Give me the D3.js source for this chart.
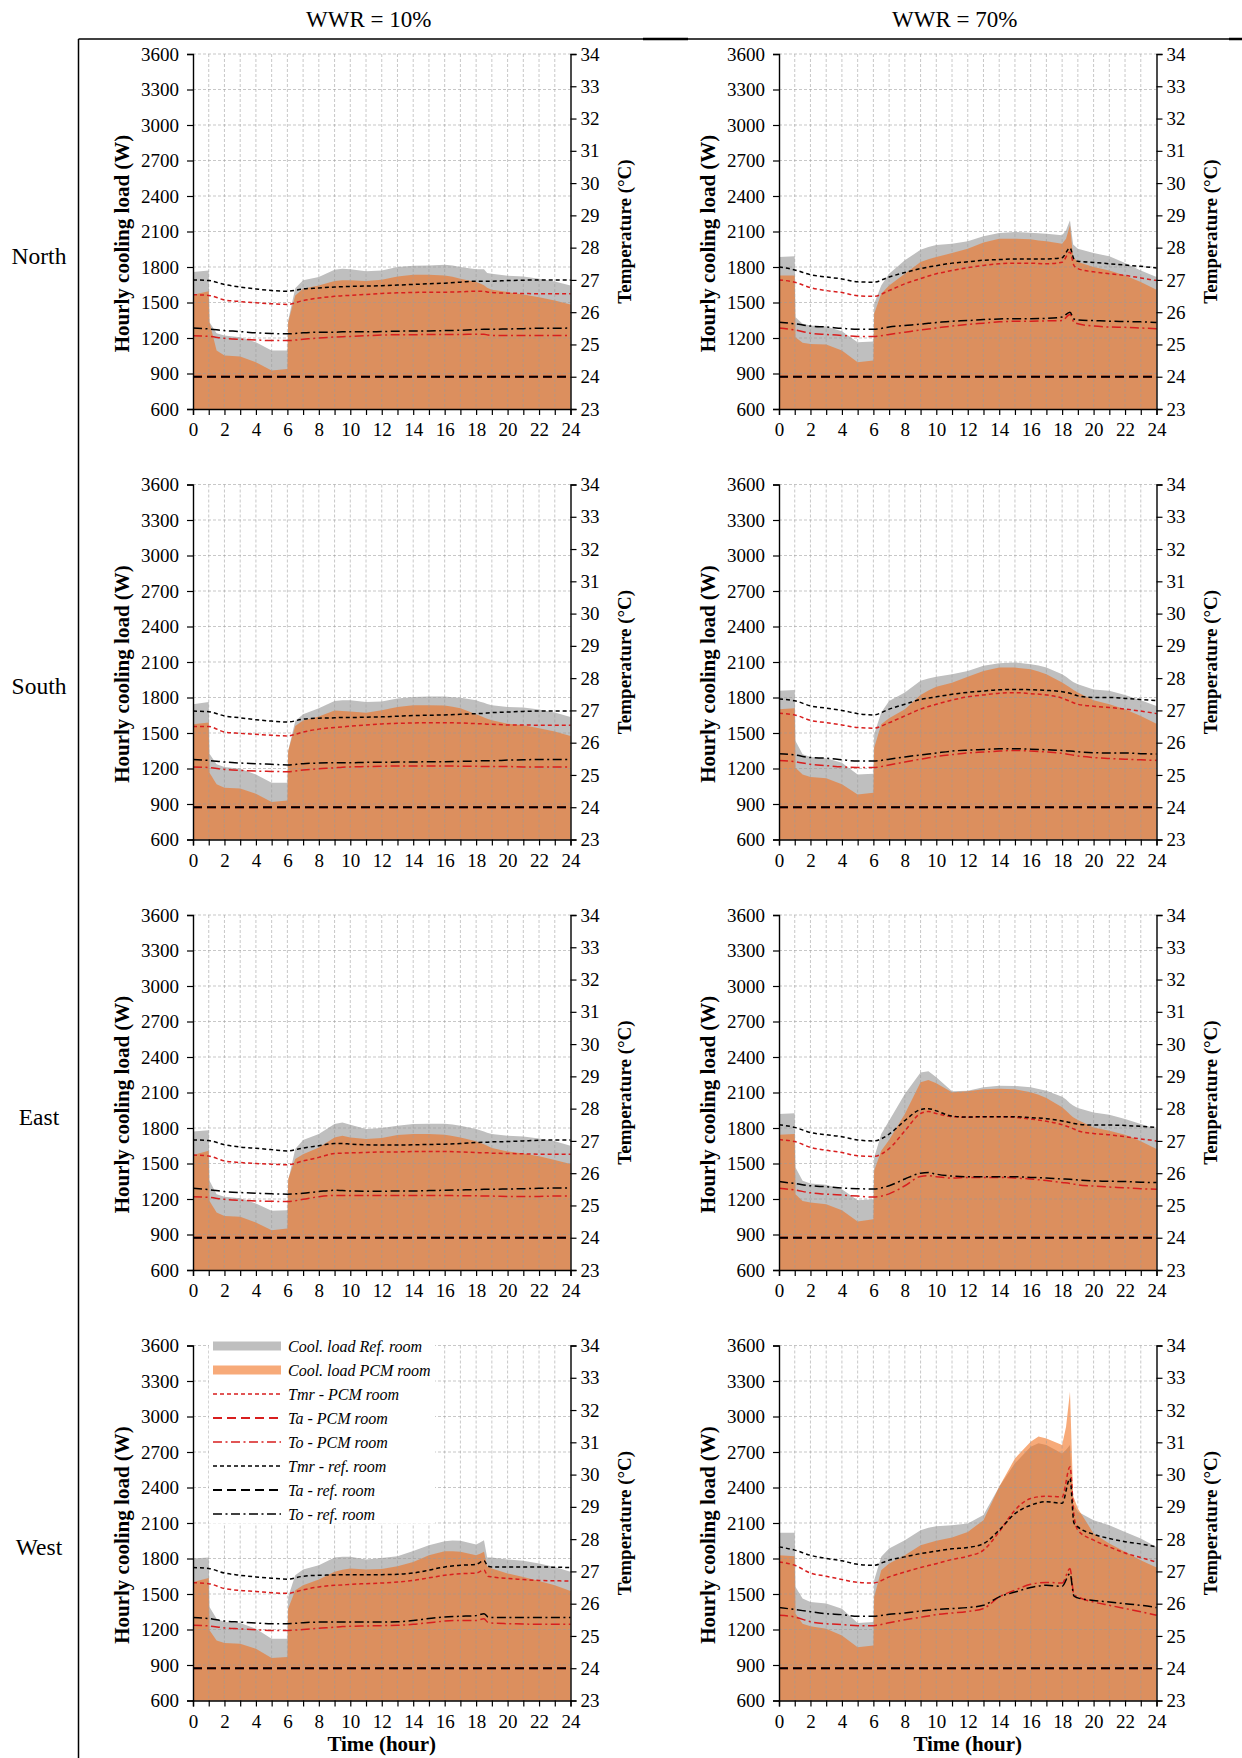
<!DOCTYPE html>
<html><head><meta charset="utf-8">
<script src="https://cdn.jsdelivr.net/npm/d3@7/dist/d3.min.js"></script>
<style>
body{margin:0;background:#fff;}
text{font-family:"Liberation Serif","Times New Roman",serif;fill:#000;}
</style>
</head><body>
<svg id="chart" width="1242" height="1758"></svg>
<script>
// ---------- categories / ticks ----------
const WWR_LABELS = ["WWR = 10%", "WWR = 70%"];
const ORIENTATIONS = ["North", "South", "East", "West"];
const LOAD_TICKS = [600, 900, 1200, 1500, 1800, 2100, 2400, 2700, 3000, 3300, 3600];
const TEMP_TICKS = [23, 24, 25, 26, 27, 28, 29, 30, 31, 32, 33, 34];
const HOUR_TICKS = [0,1,2,3,4,5,6,7,8,9,10,11,12,13,14,15,16,17,18,19,20,21,22,23,24];
const HOUR_LABELS = [0,2,4,6,8,10,12,14,16,18,20,22,24];
const LEGEND_LABELS = ["Cool. load Ref. room","Cool. load PCM room","Tmr - PCM room","Ta - PCM room","To - PCM room","Tmr - ref. room","Ta - ref. room","To - ref. room"];

// ---------- x values ----------
const HOURS_LOAD = [0,1,1.05,1.5,2,3,4,5,6,6.05,6.5,7,8,9,9.5,10,11,12,13,14,15,16,16.5,17,18,18.25,18.5,18.7,19,20,21,22,23,24];
const HOURS_TEMP = [0,1,2,3,4,5,6,7,8,9,9.5,10,11,12,13,14,15,16,17,18,18.5,18.75,19,20,21,22,23,24];
const TA_HOURS = [0, 24];
const TA_REF = [24, 24];
const TA_PCM = [24, 24];

// ---------- North ----------
const N10_LOAD_REF = [1757,1771,1334,1240,1221,1207,1164,1094,1094,1348,1620,1687,1715,1777,1785,1782,1765,1771,1799,1810,1813,1819,1812,1799,1782,1782,1782,1749,1743,1726,1720,1700,1678,1644];
const N10_LOAD_PCM = [1565,1596,1334,1094,1052,1043,995,925,939,1334,1560,1616,1644,1681,1688,1687,1681,1692,1720,1735,1735,1729,1718,1701,1673,1660,1645,1625,1608,1588,1568,1545,1517,1483];
const N10_TMR_REF = [27.0,26.98,26.86,26.78,26.72,26.67,26.65,26.72,26.75,26.78,26.79,26.8,26.81,26.82,26.84,26.86,26.88,26.9,26.93,26.96,26.96,26.96,26.96,26.98,26.99,27.0,27.0,27.0];
const N10_TMR_PCM = [26.54,26.52,26.38,26.33,26.29,26.26,26.24,26.36,26.44,26.49,26.51,26.52,26.55,26.58,26.6,26.61,26.62,26.62,26.63,26.65,26.65,26.62,26.61,26.59,26.58,26.57,26.57,26.57];
const N10_TO_REF = [25.51,25.48,25.43,25.4,25.36,25.34,25.33,25.36,25.38,25.38,25.39,25.39,25.39,25.4,25.41,25.42,25.42,25.43,25.44,25.46,25.47,25.47,25.47,25.48,25.49,25.5,25.5,25.51];
const N10_TO_PCM = [25.27,25.25,25.19,25.16,25.14,25.12,25.12,25.16,25.2,25.23,25.24,25.25,25.27,25.29,25.3,25.3,25.31,25.31,25.31,25.32,25.32,25.29,25.28,25.28,25.28,25.28,25.28,25.28];

const N70_LOAD_REF = [1884,1890,1376,1320,1306,1297,1258,1164,1170,1489,1644,1743,1856,1946,1970,1986,1997,2017,2059,2087,2096,2090,2086,2082,2068,2110,2195,1991,1955,1918,1890,1833,1771,1715];
const N70_LOAD_PCM = [1729,1729,1207,1160,1150,1145,1094,995,1009,1404,1573,1644,1743,1842,1865,1884,1918,1955,2008,2039,2039,2034,2025,2017,1997,2039,2152,1884,1842,1799,1771,1729,1673,1607];
const N70_TMR_REF = [27.4,27.31,27.16,27.09,27.03,26.94,26.93,27.09,27.23,27.35,27.4,27.44,27.52,27.56,27.61,27.63,27.65,27.65,27.65,27.69,27.99,27.65,27.58,27.54,27.5,27.46,27.42,27.37];
const N70_TMR_PCM = [27.0,26.93,26.76,26.67,26.61,26.51,26.49,26.67,26.88,27.04,27.12,27.19,27.29,27.38,27.45,27.5,27.52,27.52,27.5,27.55,27.86,27.45,27.35,27.25,27.19,27.14,27.06,26.98];
const N70_TO_REF = [25.69,25.64,25.57,25.54,25.5,25.47,25.47,25.54,25.59,25.63,25.66,25.68,25.72,25.74,25.77,25.79,25.8,25.8,25.81,25.85,26.0,25.79,25.76,25.74,25.72,25.71,25.7,25.68];
const N70_TO_PCM = [25.51,25.45,25.35,25.31,25.28,25.25,25.25,25.31,25.38,25.45,25.48,25.51,25.57,25.62,25.66,25.7,25.72,25.72,25.73,25.74,25.93,25.69,25.64,25.57,25.54,25.53,25.51,25.49];

// ---------- South ----------
const S10_LOAD_REF = [1743,1763,1325,1235,1212,1198,1150,1080,1080,1348,1602,1658,1709,1771,1776,1777,1763,1766,1791,1805,1808,1808,1803,1797,1777,1765,1755,1745,1735,1720,1715,1698,1673,1636];
const S10_LOAD_PCM = [1574,1588,1164,1066,1037,1032,987,916,930,1348,1560,1605,1640,1690,1685,1681,1672,1692,1720,1735,1735,1732,1722,1709,1658,1645,1632,1620,1607,1579,1565,1540,1512,1475];
const S10_TMR_REF = [26.98,26.96,26.83,26.77,26.71,26.67,26.64,26.73,26.76,26.77,26.78,26.78,26.79,26.8,26.82,26.84,26.85,26.86,26.88,26.9,26.91,26.92,26.93,26.95,26.97,26.98,26.98,26.98];
const S10_TMR_PCM = [26.5,26.5,26.33,26.29,26.26,26.23,26.21,26.33,26.42,26.47,26.49,26.51,26.55,26.58,26.6,26.61,26.62,26.62,26.61,26.59,26.58,26.57,26.57,26.55,26.55,26.54,26.54,26.54];
const S10_TO_REF = [25.48,25.45,25.4,25.37,25.35,25.33,25.31,25.35,25.37,25.38,25.38,25.38,25.39,25.39,25.4,25.4,25.41,25.41,25.42,25.43,25.44,25.44,25.44,25.46,25.47,25.48,25.48,25.48];
const S10_TO_PCM = [25.25,25.23,25.17,25.14,25.12,25.11,25.1,25.15,25.19,25.22,25.24,25.25,25.26,25.27,25.28,25.28,25.28,25.28,25.27,25.27,25.26,25.26,25.26,25.26,25.25,25.25,25.25,25.25];

const S70_LOAD_REF = [1856,1864,1433,1320,1297,1286,1249,1150,1156,1489,1673,1771,1842,1941,1960,1975,1997,2025,2068,2090,2096,2082,2070,2053,1997,1975,1950,1930,1912,1867,1856,1822,1777,1729];
const S70_LOAD_PCM = [1701,1709,1207,1150,1128,1117,1066,981,995,1376,1573,1624,1701,1822,1860,1890,1924,1975,2025,2053,2053,2039,2020,1997,1926,1905,1885,1865,1842,1777,1743,1701,1644,1579];
const S70_TMR_REF = [27.35,27.3,27.14,27.07,27.0,26.9,26.86,27.04,27.19,27.34,27.38,27.42,27.5,27.56,27.6,27.64,27.65,27.64,27.62,27.58,27.53,27.49,27.45,27.4,27.4,27.37,27.34,27.3];
const S70_TMR_PCM = [26.91,26.86,26.69,26.62,26.55,26.47,26.45,26.62,26.83,27.04,27.12,27.19,27.32,27.42,27.48,27.53,27.55,27.52,27.48,27.38,27.28,27.23,27.19,27.13,27.09,27.04,26.98,26.9];
const S70_TO_REF = [25.66,25.62,25.54,25.52,25.47,25.43,25.43,25.49,25.56,25.62,25.65,25.68,25.74,25.77,25.79,25.81,25.81,25.8,25.78,25.76,25.74,25.73,25.72,25.69,25.68,25.68,25.66,25.65];
const S70_TO_PCM = [25.45,25.41,25.33,25.29,25.25,25.23,25.23,25.31,25.4,25.49,25.53,25.57,25.63,25.68,25.71,25.74,25.76,25.74,25.71,25.67,25.63,25.61,25.59,25.54,25.51,25.49,25.47,25.45];

// ---------- East ----------
const E10_LOAD_REF = [1771,1782,1354,1241,1218,1207,1162,1100,1105,1354,1622,1698,1749,1833,1847,1828,1791,1799,1819,1833,1836,1836,1830,1819,1791,1780,1770,1760,1749,1735,1729,1712,1687,1650];
const E10_LOAD_PCM = [1571,1608,1184,1085,1057,1049,1001,936,950,1368,1537,1579,1636,1720,1735,1720,1706,1715,1740,1749,1749,1743,1732,1720,1687,1675,1662,1650,1630,1602,1585,1562,1529,1495];
const E10_TMR_REF = [27.03,27.01,26.88,26.81,26.77,26.73,26.69,26.78,26.85,26.92,26.92,26.9,26.88,26.87,26.87,26.88,26.89,26.9,26.92,26.95,26.96,26.96,26.97,26.98,27.0,27.02,27.03,27.03];
const E10_TMR_PCM = [26.56,26.53,26.38,26.33,26.3,26.28,26.26,26.38,26.49,26.61,26.62,26.63,26.64,26.66,26.66,26.67,26.67,26.67,26.66,26.64,26.63,26.63,26.62,26.61,26.6,26.59,26.59,26.59];
const E10_TO_REF = [25.53,25.49,25.43,25.4,25.38,25.36,25.35,25.38,25.43,25.47,25.46,25.45,25.44,25.44,25.45,25.45,25.46,25.47,25.48,25.49,25.5,25.5,25.5,25.51,25.52,25.53,25.54,25.54];
const E10_TO_PCM = [25.27,25.25,25.19,25.16,25.14,25.13,25.12,25.19,25.27,25.31,25.31,25.31,25.31,25.31,25.31,25.31,25.31,25.31,25.3,25.3,25.29,25.29,25.29,25.28,25.28,25.28,25.29,25.29];

const E70_LOAD_REF = [1918,1924,1467,1354,1331,1320,1283,1190,1198,1551,1749,1862,2087,2270,2279,2228,2110,2115,2144,2158,2155,2144,2130,2115,2065,2040,2010,1990,1969,1932,1912,1876,1833,1791];
const E70_LOAD_PCM = [1743,1749,1241,1184,1170,1156,1105,1009,1029,1439,1608,1698,1918,2186,2206,2178,2102,2110,2127,2132,2127,2102,2080,2054,1975,1945,1915,1890,1867,1805,1777,1743,1687,1622];
const E70_TMR_REF = [27.5,27.42,27.26,27.19,27.13,27.03,27.0,27.21,27.63,27.97,28.0,27.93,27.77,27.74,27.75,27.75,27.75,27.72,27.69,27.62,27.57,27.54,27.52,27.49,27.49,27.48,27.45,27.42];
const E70_TMR_PCM = [27.04,26.98,26.8,26.71,26.64,26.54,26.52,26.76,27.31,27.85,27.91,27.85,27.75,27.73,27.75,27.75,27.73,27.68,27.61,27.5,27.42,27.37,27.31,27.23,27.19,27.13,27.06,27.0];
const E70_TO_REF = [25.74,25.68,25.61,25.58,25.54,25.52,25.51,25.61,25.82,26.0,26.02,25.97,25.91,25.89,25.89,25.89,25.89,25.87,25.85,25.82,25.81,25.8,25.79,25.76,25.75,25.74,25.72,25.71];
const E70_TO_PCM = [25.53,25.48,25.39,25.35,25.32,25.29,25.26,25.36,25.61,25.9,25.92,25.89,25.85,25.87,25.87,25.87,25.85,25.82,25.77,25.71,25.68,25.66,25.64,25.6,25.57,25.55,25.52,25.5];

// ---------- West ----------
const W10_LOAD_REF = [1799,1808,1390,1291,1263,1255,1207,1122,1122,1475,1658,1706,1743,1808,1815,1814,1791,1805,1819,1864,1912,1946,1952,1949,1918,1935,1955,1808,1808,1791,1780,1757,1729,1687];
const W10_LOAD_PCM = [1602,1636,1193,1108,1086,1080,1038,959,967,1376,1531,1574,1622,1687,1705,1715,1706,1712,1735,1771,1828,1862,1862,1856,1828,1840,1856,1735,1715,1673,1644,1610,1574,1526];
const W10_TMR_REF = [27.12,27.09,26.95,26.88,26.83,26.79,26.76,26.85,26.88,26.89,26.9,26.9,26.9,26.9,26.91,26.95,27.04,27.14,27.19,27.22,27.33,27.16,27.14,27.14,27.14,27.14,27.13,27.12];
const W10_TMR_PCM = [26.65,26.62,26.47,26.41,26.38,26.34,26.32,26.43,26.52,26.57,26.58,26.6,26.62,26.64,26.67,26.72,26.8,26.88,26.93,26.95,27.04,26.85,26.83,26.78,26.75,26.72,26.71,26.7];
const W10_TO_REF = [25.57,25.54,25.46,25.43,25.4,25.38,25.38,25.41,25.43,25.43,25.43,25.43,25.43,25.43,25.44,25.48,25.54,25.59,25.61,25.63,25.69,25.59,25.57,25.57,25.57,25.57,25.57,25.57];
const W10_TO_PCM = [25.33,25.31,25.25,25.22,25.19,25.17,25.17,25.2,25.24,25.27,25.29,25.3,25.31,25.32,25.33,25.36,25.41,25.46,25.48,25.48,25.53,25.42,25.4,25.38,25.37,25.36,25.36,25.36];

const W70_LOAD_REF = [2017,2017,1560,1461,1433,1419,1376,1255,1263,1616,1814,1884,1955,2039,2060,2073,2082,2096,2167,2406,2604,2745,2773,2759,2688,2720,2760,2265,2195,2124,2082,2025,1969,1898];
const W70_LOAD_PCM = [1828,1819,1334,1249,1227,1207,1150,1051,1065,1475,1701,1757,1828,1912,1930,1949,1977,2025,2124,2406,2646,2787,2830,2815,2759,2914,3210,2330,2223,2011,1926,1856,1785,1723];
const W70_TMR_REF = [27.76,27.66,27.5,27.4,27.33,27.22,27.19,27.35,27.45,27.55,27.59,27.63,27.7,27.74,27.86,28.28,28.79,29.05,29.16,29.11,29.88,28.5,28.38,28.15,28.02,27.92,27.85,27.76];
const W70_TMR_PCM = [27.29,27.19,26.95,26.85,26.75,26.66,26.64,26.83,26.98,27.12,27.18,27.24,27.37,27.47,27.66,28.23,28.9,29.26,29.33,29.31,30.24,28.75,28.28,27.97,27.76,27.57,27.43,27.29];
const W70_TO_REF = [25.88,25.82,25.75,25.69,25.66,25.61,25.61,25.67,25.71,25.77,25.8,25.82,25.85,25.88,25.95,26.21,26.36,26.5,26.57,26.54,26.93,26.24,26.18,26.1,26.05,26.0,25.95,25.88];
const W70_TO_PCM = [25.64,25.59,25.44,25.38,25.35,25.32,25.32,25.41,25.5,25.58,25.62,25.66,25.71,25.76,25.85,26.21,26.42,26.6,26.66,26.64,27.09,26.28,26.21,26.05,25.95,25.85,25.75,25.64];

// ---------- panel table built from the arrays ----------
const PANELS = [
  {row:0,col:0,ref:N10_LOAD_REF,pcm:N10_LOAD_PCM,tmrRef:N10_TMR_REF,tmrPcm:N10_TMR_PCM,toRef:N10_TO_REF,toPcm:N10_TO_PCM},
  {row:0,col:1,ref:N70_LOAD_REF,pcm:N70_LOAD_PCM,tmrRef:N70_TMR_REF,tmrPcm:N70_TMR_PCM,toRef:N70_TO_REF,toPcm:N70_TO_PCM},
  {row:1,col:0,ref:S10_LOAD_REF,pcm:S10_LOAD_PCM,tmrRef:S10_TMR_REF,tmrPcm:S10_TMR_PCM,toRef:S10_TO_REF,toPcm:S10_TO_PCM},
  {row:1,col:1,ref:S70_LOAD_REF,pcm:S70_LOAD_PCM,tmrRef:S70_TMR_REF,tmrPcm:S70_TMR_PCM,toRef:S70_TO_REF,toPcm:S70_TO_PCM},
  {row:2,col:0,ref:E10_LOAD_REF,pcm:E10_LOAD_PCM,tmrRef:E10_TMR_REF,tmrPcm:E10_TMR_PCM,toRef:E10_TO_REF,toPcm:E10_TO_PCM},
  {row:2,col:1,ref:E70_LOAD_REF,pcm:E70_LOAD_PCM,tmrRef:E70_TMR_REF,tmrPcm:E70_TMR_PCM,toRef:E70_TO_REF,toPcm:E70_TO_PCM},
  {row:3,col:0,ref:W10_LOAD_REF,pcm:W10_LOAD_PCM,tmrRef:W10_TMR_REF,tmrPcm:W10_TMR_PCM,toRef:W10_TO_REF,toPcm:W10_TO_PCM},
  {row:3,col:1,ref:W70_LOAD_REF,pcm:W70_LOAD_PCM,tmrRef:W70_TMR_REF,tmrPcm:W70_TMR_PCM,toRef:W70_TO_REF,toPcm:W70_TO_PCM}
];

// ---------- layout / style ----------
const COL_X = [193, 779];
const ROW_Y = [54, 484.5, 915, 1345.5];
const PW = 377.5, PH = 355;
const GRAY = "#bfbfbf";
const ORANGE = "rgb(241,108,24)";
const ORANGE_OP = 0.58;
const RED = "#d81e1e";
const BLACK = "#000";
const DASH_SHORT = "4,3", DASH_LONG = "9,5", DASH_DOT = "9,3.5,2,3.5";

const svg = d3.select("#chart");

// frame lines
svg.append("line").attr("x1",78.5).attr("x2",1242).attr("y1",39).attr("y2",39).attr("stroke","#000").attr("stroke-width",1.5);
svg.append("line").attr("x1",643).attr("x2",688).attr("y1",39).attr("y2",39).attr("stroke","#000").attr("stroke-width",2.5);
svg.append("line").attr("x1",1229).attr("x2",1242).attr("y1",39).attr("y2",39).attr("stroke","#000").attr("stroke-width",2.5);
svg.append("line").attr("x1",78.5).attr("x2",78.5).attr("y1",39).attr("y2",1758).attr("stroke","#000").attr("stroke-width",1.5);

// column titles
WWR_LABELS.forEach((t,i)=>{
  svg.append("text").attr("x",COL_X[i]+PW/2-13).attr("y",27).attr("text-anchor","middle")
    .style("font-size","23px").text(t);
});
// row labels
ORIENTATIONS.forEach((t,i)=>{
  svg.append("text").attr("x",39).attr("y",ROW_Y[i]+PH/2+32).attr("text-anchor","middle")
    .style("font-size","23.5px").text(t);
});

const x = d3.scaleLinear().domain([0,24]).range([0,PW]);
const yL = d3.scaleLinear().domain([600,3600]).range([PH,0]);
const yT = d3.scaleLinear().domain([23,34]).range([PH,0]);

PANELS.forEach(p=>{
  const g = svg.append("g").attr("transform",`translate(${COL_X[p.col]},${ROW_Y[p.row]})`);

  const area = d3.area().x((d,i)=>x(HOURS_LOAD[i])).y0(yL(600)).y1(d=>yL(d)).curve(d3.curveLinear);
  g.append("path").datum(p.ref).attr("d",area).attr("fill",GRAY);
  g.append("path").datum(p.pcm).attr("d",area).attr("fill",ORANGE).attr("fill-opacity",ORANGE_OP);

  // gridlines
  const grid = g.append("g").attr("stroke","#9a9a9a").attr("stroke-opacity",0.55).attr("stroke-dasharray","3,2").attr("stroke-width",1);
  grid.selectAll("line.h").data(LOAD_TICKS.slice(1)).enter().append("line")
    .attr("x1",0).attr("x2",PW).attr("y1",d=>yL(d)).attr("y2",d=>yL(d));
  grid.selectAll("line.v").data(HOUR_TICKS.slice(1,-1)).enter().append("line")
    .attr("x1",d=>x(d)).attr("x2",d=>x(d)).attr("y1",0).attr("y2",PH);

  // legend box (West, WWR 10%)
  const isLegend = (p.row===3 && p.col===0);
  if(isLegend){
    g.append("rect").attr("x",16).attr("y",-10).attr("width",226).attr("height",188).attr("fill","#fff");
  }

  const lineT = (hours)=>d3.line().x((d,i)=>x(hours[i])).y(d=>yT(d)).curve(d3.curveMonotoneX);
  const series = [
    {d:p.tmrPcm,h:HOURS_TEMP,c:RED,dash:DASH_SHORT,w:1.5},
    {d:TA_PCM,h:TA_HOURS,c:RED,dash:DASH_LONG,w:2},
    {d:p.toPcm,h:HOURS_TEMP,c:RED,dash:DASH_DOT,w:1.5},
    {d:p.tmrRef,h:HOURS_TEMP,c:BLACK,dash:DASH_SHORT,w:1.5},
    {d:TA_REF,h:TA_HOURS,c:BLACK,dash:DASH_LONG,w:2},
    {d:p.toRef,h:HOURS_TEMP,c:BLACK,dash:DASH_DOT,w:1.5}
  ];
  series.forEach(s=>{
    g.append("path").datum(s.d).attr("d",lineT(s.h)).attr("fill","none")
      .attr("stroke",s.c).attr("stroke-width",s.w).attr("stroke-dasharray",s.dash);
  });

  // axes
  const axL = d3.axisLeft(yL).tickValues(LOAD_TICKS).tickSize(6).tickPadding(8).tickFormat(d3.format("d"));
  const axR = d3.axisRight(yT).tickValues(TEMP_TICKS).tickSize(6).tickPadding(4).tickFormat(d3.format("d"));
  const axB = d3.axisBottom(x).tickValues(HOUR_TICKS).tickSize(6).tickPadding(8)
      .tickFormat(d=>HOUR_LABELS.includes(d)?d:"");
  [[axL,"translate(0,0)"],[axR,`translate(${PW},0)`],[axB,`translate(0,${PH})`]].forEach(([a,t])=>{
    const ag = g.append("g").attr("transform",t).call(a);
    ag.select(".domain").attr("stroke","#000").attr("stroke-width",1.4);
    ag.selectAll(".tick line").attr("stroke","#000").attr("stroke-width",1.2);
    ag.selectAll("text").style("font-family","'Liberation Serif','Times New Roman',serif").style("font-size","19px").attr("fill","#000");
  });

  // axis titles
  g.append("text").attr("transform",`translate(${-64},${PH/2+12}) rotate(-90)`).attr("text-anchor","middle")
    .style("font-size","21px").style("font-weight","bold").text("Hourly cooling load (W)");
  g.append("text").attr("transform",`translate(${PW+60},${PH/2}) rotate(-90)`).attr("text-anchor","middle")
    .style("font-size","19px").style("font-weight","bold").text("Temperature (°C)");
  if(p.row===3){
    g.append("text").attr("x",PW/2).attr("y",PH+50).attr("text-anchor","middle")
      .style("font-size","21px").style("font-weight","bold").text("Time (hour)");
  }

  if(isLegend){
    const styles = [
      {type:"rect",c:GRAY,op:1},
      {type:"rect",c:ORANGE,op:ORANGE_OP},
      {type:"line",c:RED,dash:DASH_SHORT,w:1.5},
      {type:"line",c:RED,dash:DASH_LONG,w:2},
      {type:"line",c:RED,dash:DASH_DOT,w:1.5},
      {type:"line",c:BLACK,dash:DASH_SHORT,w:1.5},
      {type:"line",c:BLACK,dash:DASH_LONG,w:2},
      {type:"line",c:BLACK,dash:DASH_DOT,w:1.5}
    ];
    LEGEND_LABELS.forEach((lab,i)=>{
      const yy = 0.5 + i*24;
      const s = styles[i];
      if(s.type==="rect"){
        g.append("rect").attr("x",20).attr("y",yy-4.5).attr("width",68).attr("height",9).attr("fill",s.c).attr("fill-opacity",s.op);
      } else {
        g.append("line").attr("x1",20).attr("x2",88).attr("y1",yy).attr("y2",yy).attr("stroke",s.c)
          .attr("stroke-width",s.w).attr("stroke-dasharray",s.dash);
      }
      g.append("text").attr("x",95).attr("y",yy+5.5).style("font-size","16px").style("font-style","italic").text(lab);
    });
  }
});
</script>
</body></html>
